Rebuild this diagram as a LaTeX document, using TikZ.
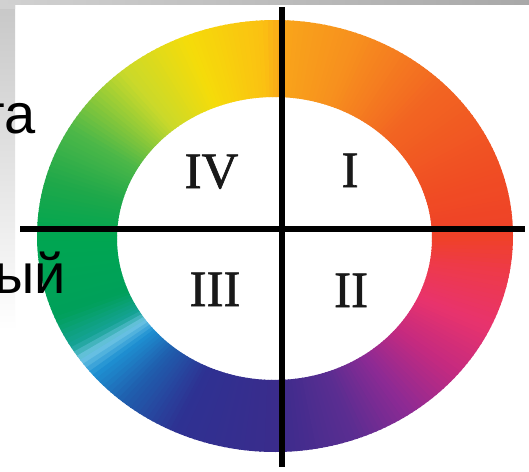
\documentclass[tikz,border=0pt]{standalone}
\usepackage{fontspec}
\setmainfont{Liberation Serif}
\newfontfamily\numfont[FakeBold=1.2]{Liberation Serif}
\newfontfamily\slidefont{Liberation Sans}
\definecolor{s0}{HTML}{EF4128}
\definecolor{s20}{HTML}{F04E23}
\definecolor{s45}{HTML}{F26522}
\definecolor{s70}{HTML}{F7901E}
\definecolor{s88}{HTML}{F9A51A}
\definecolor{s93}{HTML}{FBC012}
\definecolor{s112}{HTML}{F5DC0A}
\definecolor{s130}{HTML}{C9D92B}
\definecolor{s150}{HTML}{4DB848}
\definecolor{s165}{HTML}{1FA84A}
\definecolor{s180}{HTML}{00A651}
\definecolor{s202}{HTML}{00A05A}
\definecolor{s211}{HTML}{16A296}
\definecolor{s215}{HTML}{70C6E4}
\definecolor{s220}{HTML}{1E90D2}
\definecolor{s230}{HTML}{1F5FAE}
\definecolor{s245}{HTML}{2E3192}
\definecolor{s270}{HTML}{3A2C8C}
\definecolor{s290}{HTML}{5B2D91}
\definecolor{s305}{HTML}{8E2A94}
\definecolor{s320}{HTML}{C42A80}
\definecolor{s335}{HTML}{E8336D}
\definecolor{s350}{HTML}{EE3A4A}
\definecolor{s360}{HTML}{EF4128}
\tikzset{
  axisline/.style={line width=6pt, black},
  numeral/.style={font=\numfont\fontsize{51}{51}\selectfont, inner sep=0pt, anchor=base, text=black!90},
  slidetext/.style={font=\slidefont\fontsize{56}{56}\selectfont, inner sep=0pt, anchor=base east, text=black}
}
\begin{document}
\begin{tikzpicture}[x=1pt,y=-1pt]
\useasboundingbox (0,0) rectangle (529,471);
\fill[white] (0,0) rectangle (529,471);
% slide frame shading
\shade[top color=black!22, bottom color=white] (0,0) rectangle (15,330);
\shade[left color=black!18, right color=black!34] (0,0) rectangle (529,4);
\shade[top color=black!18, bottom color=black!18!white] (0,4) rectangle (15,8);
% colour ring
\foreach \a/\b/\ca/\cb in {0/20/s0/s20, 20/45/s20/s45, 45/70/s45/s70, 70/88/s70/s88, 88/93/s88/s93, 93/112/s93/s112, 112/130/s112/s130, 130/150/s130/s150, 150/165/s150/s165, 165/180/s165/s180, 180/202/s180/s202, 202/211/s202/s211, 211/215/s211/s215, 215/220/s215/s220, 220/230/s220/s230, 230/245/s230/s245, 245/270/s245/s270, 270/290/s270/s290, 290/305/s290/s305, 305/320/s305/s320, 320/335/s320/s335, 335/350/s335/s350, 350/360/s350/s360}{
  \pgfmathtruncatemacro\n{max(1,round((\b-\a)/1.25))}
  \foreach \i in {1,...,\n}{
    \pgfmathsetmacro\t{100*(\i-0.5)/\n}
    \pgfmathsetmacro\u{\a+(\b-\a)*(\i-1)/\n}
    \pgfmathsetmacro\v{\a+(\b-\a)*\i/\n+0.35}
    \fill[color=\cb!\t!\ca]
      ({275+238*cos(\u)},{236-216*sin(\u)}) --
      ({275+238*cos(\v)},{236-216*sin(\v)}) --
      ({274.5+157.5*cos(\v)},{238.5-141.5*sin(\v)}) --
      ({274.5+157.5*cos(\u)},{238.5-141.5*sin(\u)}) -- cycle;
  }
}
% slide text behind
\node[slidetext] (ta) at (36,133) {та};
\node[slidetext] (yj) at (66,293) {ый};
% axes
\coordinate (vt) at (282,7);
\coordinate (vb) at (282,467);
\coordinate (hl) at (20,229);
\coordinate (hr) at (525,229);
\draw[axisline] (vt) -- (vb);
\draw[axisline] (hl) -- (hr);
% quadrant numerals
\node[numeral] (q4) at (211.5,188) {IV};
\node[numeral] (q1) at (350,187) {I};
\node[numeral] (q3) at (215,306) {III};
\node[numeral] (q2) at (351,307) {II};
\end{tikzpicture}
\end{document}
